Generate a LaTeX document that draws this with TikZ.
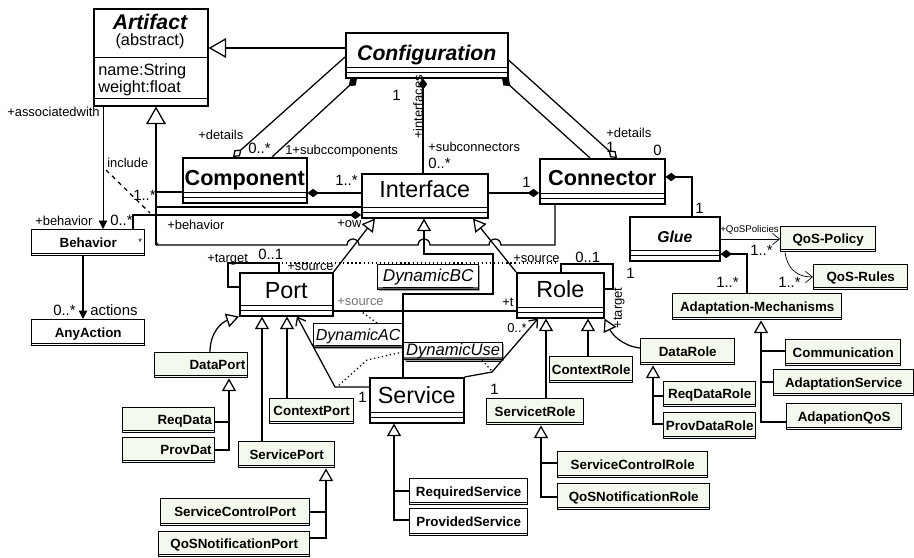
\documentclass[tikz,border=0pt]{standalone}
\usepackage{fontspec}
\setmainfont{Liberation Sans}
\usetikzlibrary{arrows.meta,shadows}

\newdimen\upx \upx=0.025cm
\definecolor{clsfill}{RGB}{244,249,237}
\newcommand\clsfont{\fontsize{9.5}{11}\selectfont\bfseries}
\newcommand\lblfont{\fontsize{9.2}{10}\selectfont}
\newcommand\mulfont{\fontsize{10.6}{12}\selectfont}
\newcommand\tinyfont{\fontsize{6.9}{8}\selectfont}
\newcommand\absfont{\fontsize{11.6}{13}\selectfont}
\newcommand\bigfont{\fontsize{16.6}{18}\selectfont}
\newcommand\bigbfont{\fontsize{15.4}{17}\selectfont\bfseries}
\newcommand\titlefont{\fontsize{15.1}{17}\selectfont\bfseries\itshape}
\newcommand\gluefont{\fontsize{11.2}{13}\selectfont\bfseries\itshape}
\newcommand\dynfont{\fontsize{12.2}{14}\selectfont\itshape}

\tikzset{
  uml/.style={draw, line width=1.1pt, fill=white, inner sep=0pt, anchor=north west},
  compart/.style={path picture={
    \draw[line width=0.8pt] ([yshift=10\upx]path picture bounding box.south west) -- ([yshift=10\upx]path picture bounding box.south east)
      ([yshift=5\upx]path picture bounding box.south west) -- ([yshift=5\upx]path picture bounding box.south east);}},
  dims/.style n args={3}{minimum width=#1\upx, text height=#2\upx, text depth=#3\upx},
  cls/.style={draw, line width=1pt, fill=clsfill, inner sep=0pt, anchor=north west, font=\clsfont,
    text height=12\upx, text depth=3\upx, path picture={
    \draw[line width=0.8pt] ([yshift=2.5\upx]path picture bounding box.south west) -- ([yshift=2.5\upx]path picture bounding box.south east);}},
  wh/.style 2 args={minimum width=#1\upx, minimum height=#2\upx},
  rtext/.style={text width=#1\upx, align=right},
  dyn/.style={draw, line width=1pt, fill=white, inner sep=0pt, anchor=north west, font=\dynfont,
    text height=12\upx, text depth=3\upx, drop shadow={shadow xshift=1.2pt, shadow yshift=-1.2pt, fill=black!70},
    path picture={
    \draw[line width=1.2pt, black!60] ([yshift=2\upx]path picture bounding box.south west) -- ([yshift=2\upx]path picture bounding box.south east);}},
  lbl/.style={font=\lblfont, inner sep=0pt, anchor=base west},
  mul/.style={font=\mulfont, inner sep=0pt, anchor=base west},
  line/.style={line width=0.9pt},
  thinline/.style={line width=0.5pt},
  dotline/.style={line width=0.9pt, dotted},
  gen/.style={line, -{Triangle[open, length=9pt, width=10pt]}},
  biggen/.style={line, -{Triangle[open, length=12.5pt, width=14pt]}},
  comp/.style={line, {Diamond[length=8pt, width=6pt]}-},
  compend/.style={line, -{Diamond[length=8pt, width=6pt]}},
  aggend/.style={line, -{Diamond[open, length=8pt, width=6pt]}},
  nav/.style={-{Straight Barb[length=5pt, width=8pt]}},
  solidtip/.style={-{Triangle[length=6pt, width=6pt]}}
}

\begin{document}
\begin{tikzpicture}[x=0.025cm, y=-0.025cm]
\useasboundingbox (0,0) rectangle (914,558);

% main classes
\node[uml, minimum width=114\upx, minimum height=97\upx, path picture={
  \draw[line width=0.8pt] ([yshift=48\upx]path picture bounding box.south west) -- ([yshift=48\upx]path picture bounding box.south east)
    ([yshift=7\upx]path picture bounding box.south west) -- ([yshift=7\upx]path picture bounding box.south east);}] (artifact) at (93,8) {};
\node[font=\titlefont, anchor=base, inner sep=0pt] (artifact name) at (150,30) {Artifact};
\node[font=\absfont, anchor=base, inner sep=0pt] (artifact kind) at (150,46) {(abstract)};
\node[font=\absfont, anchor=base west, inner sep=0pt] (artifact a1) at (98,75) {name:String};
\node[font=\absfont, anchor=base west, inner sep=0pt] (artifact a2) at (98,93) {weight:float};

\node[uml, compart, dims={162}{28}{17}, font=\titlefont] (config) at (345,32) {Configuration};
\node[uml, compart, dims={124}{28}{17}, font=\bigbfont] (component) at (182,157) {Component};
\node[uml, compart, dims={126}{24}{20}, font=\bigfont] (interface) at (361,173) {Interface};
\node[uml, compart, dims={125}{27}{18}, font=\bigbfont] (connector) at (539,158) {Connector};
\node[uml, compart, dims={90}{26}{18}, font=\gluefont] (glue) at (629,216) {Glue};
\node[uml, compart, dims={93}{26}{17}, font=\bigfont] (port) at (239,272) {Port};
\node[uml, compart, dims={87}{25}{20}, font=\bigfont] (role) at (516,272) {Role};
\node[uml, compart, dims={94}{26}{19}, font=\bigfont] (service) at (369,377) {Service};

% small classes
\node[cls, wh={113}{26}, fill=white] (behavior) at (31,229) {Behavior};
\node[cls, wh={113}{26}, fill=white] (anyaction) at (31,319) {AnyAction};
\node[cls, wh={93}{25}, rtext=88] (dataport) at (154,352) {DataPort};
\node[cls, wh={92}{25}, rtext=86] (reqdata) at (122,407) {ReqData};
\node[cls, wh={92}{25}, rtext=86] (provdat) at (122,437) {ProvDat};
\node[cls, wh={84}{25}] (contextport) at (269,398) {ContextPort};
\node[cls, wh={96}{26}] (serviceport) at (238,441) {ServicePort};
\node[cls, wh={149}{27}] (servicecontrolport) at (160,498) {ServiceControlPort};
\node[cls, wh={151}{25}] (qosnotifport) at (158,531) {QoSNotificationPort};
\node[cls, wh={118}{26}, fill=white] (requiredservice) at (409,478) {RequiredService};
\node[cls, wh={118}{27}, fill=white] (providedservice) at (409,508) {ProvidedService};
\node[cls, wh={97}{26}] (servicetrole) at (486,398) {ServicetRole};
\node[cls, wh={83}{26}] (contextrole) at (549,356) {ContextRole};
\node[cls, wh={94}{26}] (datarole) at (640,338) {DataRole};
\node[cls, wh={92}{25}] (reqdatarole) at (663,381) {ReqDataRole};
\node[cls, wh={92}{26}] (provdatarole) at (663,412) {ProvDataRole};
\node[cls, wh={150}{26}] (servicecontrolrole) at (557,451) {ServiceControlRole};
\node[cls, wh={152}{26}] (qosnotifrole) at (557,483) {QoSNotificationRole};
\node[cls, wh={95}{25}] (qospolicy) at (780,226) {QoS-Policy};
\node[cls, wh={94}{25}] (qosrules) at (813,264) {QoS-Rules};
\node[cls, wh={169}{26}] (adaptation) at (672,293) {Adaptation-Mechanisms};
\node[cls, wh={115}{26}] (communication) at (785,339) {Communication};
\node[cls, wh={140}{26}] (adaptservice) at (773,369) {AdaptationService};
\node[cls, wh={115}{26}] (adaptqos) at (786,403) {AdapationQoS};

% association classes
\node[dyn, wh={101}{25}] (dynbc) at (377,264) {\underline{DynamicBC}};
\node[dyn, wh={89}{24}, font=\fontsize{11.4}{13}\selectfont\itshape] (dynac) at (313,323) {\underline{DynamicAC}};
\node[dyn, wh={99}{17}, font=\fontsize{11.8}{13}\selectfont\itshape] (dynuse) at (403,342) {\underline{DynamicUse}};

% generalizations to Artifact
\draw[biggen] (config.west |- 0,48) -- (artifact.east |- 0,48);
\draw[biggen] (156,245) -- (artifact.south -| 156,0);
\draw[line] (component.west |- 0,192) -- (156,192);
\draw[line] (interface.west |- 0,207) -- (156,207);
\draw[line] (connector.south -| 555,0) -- (555,245) -- (501,245) arc[start angle=0, end angle=-180, radius=6]
  -- (430,245) arc[start angle=0, end angle=-180, radius=6]
  -- (359,245) arc[start angle=0, end angle=-180, radius=6] -- (156,245);

% configuration
\draw[aggend] (config.west |- 0,57) -- (component.north -| 233,0);
\draw[comp] (config.south -| 357,0) -- (component.north -| 272,0);
\draw[comp] (config.south -| 423,0) -- (interface.north -| 423,0);
\draw[comp] (config.south -| 502,0) -- (connector.north -| 590,0);
\draw[aggend] (config.east |- 0,60) -- (connector.north -| 617,0);
\draw[comp] (component.east |- 0,193) -- (interface.west |- 0,193);
\draw[compend] (interface.east |- 0,193) -- (connector.west |- 0,193);
\draw[comp] (connector.east |- 0,177) -| (glue.north -| 692,0);

% glue side
\draw[thinline, nav] (glue.east |- 0,239) -- (qospolicy.west |- 0,239);
\draw[thinline, nav] (qospolicy.south -| 785,0) .. controls (788,272) and (800,277) .. (qosrules.west |- 0,277);
\draw[comp] (glue.east |- 0,254) -| (adaptation.north -| 747,0);
\draw[gen] (adaptqos.west |- 0,422) -| (adaptation.south -| 761,0);
\draw[line] (communication.west |- 0,351) -- (761,351);
\draw[line] (adaptservice.west |- 0,382) -- (761,382);

% behavior
\draw[thinline, solidtip] (artifact.south -| 103,0) -- (behavior.north -| 103,0);
\draw[line, solidtip] (behavior.south -| 83,0) -- (anyaction.north -| 83,0);
\draw[compend] (behavior.north -| 133,0) |- (interface.west |- 0,215);
\draw[line, dashed] (106,170) -- (150,213);

% interface specializations
\draw[gen] (port.north east) -- (interface.south -| 375,0);
\draw[gen] (role.north west) -- (interface.south -| 473,0);
\draw[gen] (service.north -| 403,0) -- (403,294) -- (493,294) -- (493,254) -- (424,254) -- (interface.south -| 424,0);

% port and role links
\draw[line] (port.west |- 0,287) -- (228,287) -- (228,263) -- (279,263) -- (port.north -| 279,0);
\draw[line] (role.east |- 0,289) -- (613,289) -- (613,264) -- (561,264) -- (role.north -| 561,0);
\draw[dotline] (282,263) -- (558,263);
\draw[line] (port.east |- 0,311) -- (role.west |- 0,311);
\draw[dotline] (dynac.north -| 377,0) -- (362,312);
\draw[line, nav] (service.west |- 0,387) -- (335,387) -- (port.south -| 297,0);
\draw[line, nav] (service.north east) -- (492,372) -- (role.south -| 538,0);
\draw[dotline] (dynuse.west |- 0,352) -- (367,360) -- (337,387);
\draw[dotline] (dynuse.south -| 482,0) -- (493,372);

% port specializations
\draw[gen] (dataport.north -| 210,0) .. controls (210,332) and (222,322) .. (port.south west);
\draw[gen] (contextport.north -| 287,0) -- (port.south -| 287,0);
\draw[gen] (serviceport.north -| 262,0) -- (port.south -| 262,0);
\draw[gen] (provdat.east |- 0,450) -| (dataport.south -| 229,0);
\draw[line] (reqdata.east |- 0,422) -- (229,422);
\draw[gen] (qosnotifport.east |- 0,538) -| (serviceport.south -| 326,0);
\draw[line] (servicecontrolport.east |- 0,512) -- (326,512);
\draw[gen] (providedservice.west |- 0,520) -| (service.south -| 394,0);
\draw[line] (requiredservice.west |- 0,491) -- (394,491);

% role specializations
\draw[gen] (servicetrole.north -| 546,0) -- (role.south -| 546,0);
\draw[gen] (contextrole.north -| 588,0) -- (role.south -| 588,0);
\draw[gen] (datarole.west |- 0,348) .. controls (622,346) and (612,334) .. (role.south east);
\draw[gen] (provdatarole.west |- 0,424) -| (datarole.south -| 653,0);
\draw[line] (reqdatarole.west |- 0,396) -- (653,396);
\draw[gen] (qosnotifrole.west |- 0,497) -| (servicetrole.south -| 541,0);
\draw[line] (servicecontrolrole.west |- 0,463) -- (541,463);

% labels
\node[lbl] (l assoc) at (7,117) {+associatedwith};
\node[lbl] (l include) at (107,167) {include};
\node[mul] (m incl) at (133,200) {1..*};
\node[lbl] (l behav1) at (35,225) {+behavior};
\node[mul] (m behav1) at (110,225) {0..*};
\node[lbl] (l behav2) at (167,229) {+behavior};
\node[lbl] (l ow) at (337,227) {+ow};
\node[font=\tinyfont, inner sep=0pt, anchor=base west] (m star1) at (138,245) {*};
\node[font=\tinyfont, inner sep=0pt, anchor=base west] (m star2) at (155,249) {*};
\node[mul] (m actions) at (53,315) {0..*};
\node[mul] (l actions) at (90,315) {actions};
\node[lbl] (l details1) at (198,140) {+details};
\node[mul] (m details1) at (248,153) {0..*};
\node[lbl] (l subcomp) at (285,154) {1+subccomponents};
\node[mul] (m conf) at (392,100) {1};
\node[lbl, anchor=center, rotate=90] (l interfaces) at (418,107) {+interfaces};
\node[lbl] (l subconn) at (428,151) {+subconnectors};
\node[mul] (m subconn) at (428,168) {0..*};
\node[mul] (m compint) at (335,185) {1..*};
\node[mul] (m intconn) at (522,187) {1};
\node[lbl] (l details2) at (606,137) {+details};
\node[mul] (m details2a) at (606,152) {1};
\node[mul] (m details2b) at (653,155) {0};
\node[mul] (m glue) at (695,213) {1};
\node[font=\tinyfont, inner sep=0pt, anchor=base west] (l qospol) at (720,232) {+QoSPolicies};
\node[mul] (m qospol) at (750,255) {1..*};
\node[mul] (m qosrules) at (778,287) {1..*};
\node[mul] (m adapt) at (716,287) {1..*};
\node[lbl] (l rsource) at (513,262) {+source};
\node[mul] (m rloop) at (575,262) {0..1};
\node[mul] (m rloop1) at (626,278) {1};
\node[lbl, anchor=center, rotate=90] (l rtarget) at (619,308) {+target};
\node[lbl] (l ptarget) at (207,262) {+target};
\node[mul] (m ploop) at (258,259) {0..1};
\node[lbl] (l psource) at (287,270) {+source};
\node[lbl, text=black!55] (l acsource) at (337,305) {+source};
\node[lbl] (l rt) at (502,306) {+t};
\node[lbl] (m srole) at (507,332) {0..*};
\node[mul] (m srole1) at (490,394) {1};
\node[mul] (m sport1) at (358,402) {1};
\end{tikzpicture}
\end{document}
